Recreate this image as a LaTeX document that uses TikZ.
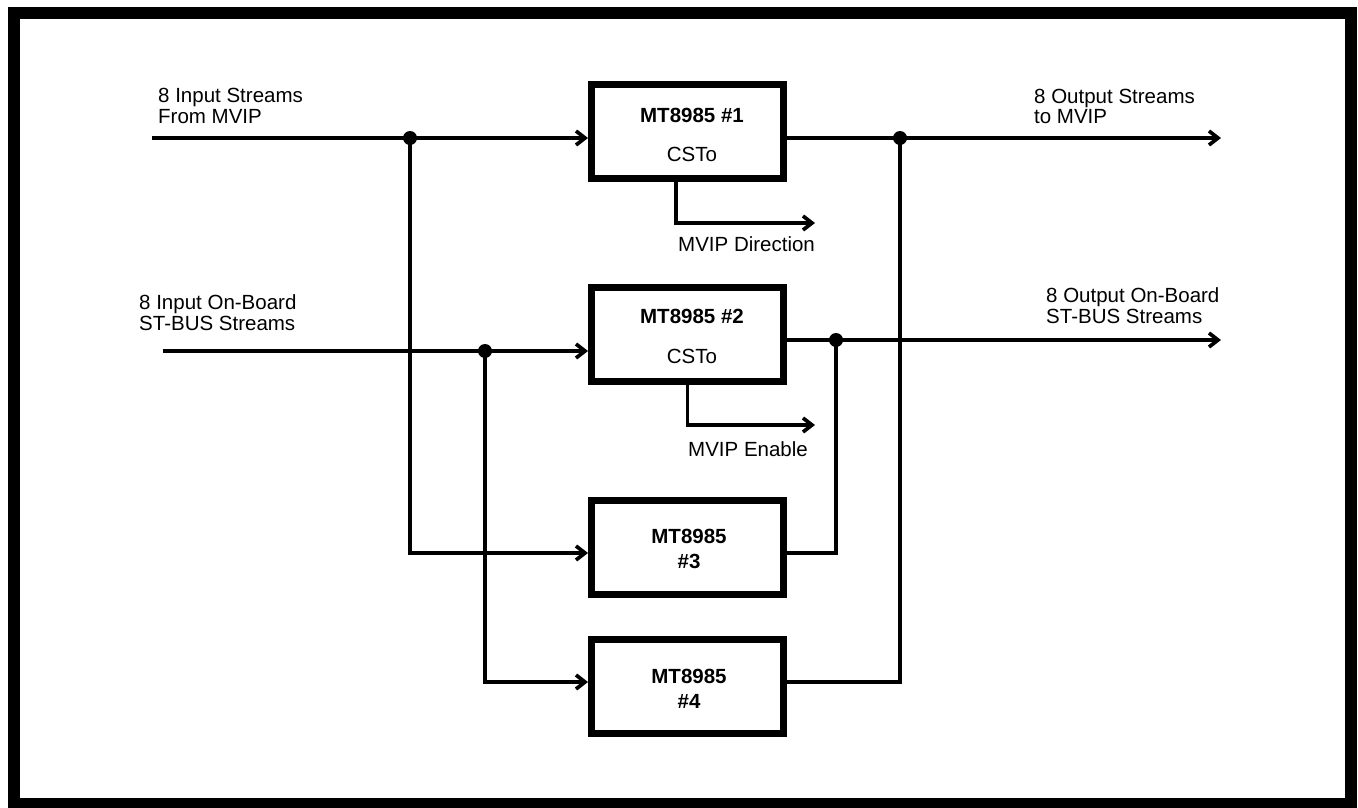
\documentclass[tikz,border=0pt]{standalone}
\usepackage{fontspec}
\setmainfont{Liberation Sans}
\usetikzlibrary{arrows.meta}
\begin{document}
\begin{tikzpicture}[x=1pt,y=-1pt,
  chip/.style={draw, line width=7pt, minimum width=192pt, minimum height=94pt, inner sep=0pt},
  wire/.style={line width=3.7pt},
  arr/.style={wire, -{Straight Barb[length=9pt,width=14pt]}},
  dot/.style={circle, fill, inner sep=0pt, minimum size=14pt},
  lbl/.style={font=\fontsize{20.5}{20.5}\selectfont, inner sep=0pt, align=left, anchor=base west},
  chiptext/.style={font=\fontsize{20.5}{20.5}\selectfont, inner sep=0pt, anchor=base}]
\useasboundingbox (0,0) rectangle (1358,808);
\draw[line width=12pt] (14,13) rectangle (1350.5,803.5);

% chips
\node[chip] (b1) at (687.5,131.5) {};
\node[chip] (b2) at (687.5,334.5) {};
\node[chip] (b3) at (687.5,547.5) {};
\node[chip] (b4) at (687.5,686.5) {};
\node[chiptext] (b1t) at (692,122) {\bfseries MT8985 \#1};
\node[chiptext] (b1c) at (692,161) {CSTo};
\node[chiptext] (b2t) at (692,323) {\bfseries MT8985 \#2};
\node[chiptext] (b2c) at (692,363) {CSTo};
\node[chiptext] (b3t) at (689,543) {\bfseries MT8985};
\node[chiptext] (b3n) at (689,568) {\bfseries \#3};
\node[chiptext] (b4t) at (689,683) {\bfseries MT8985};
\node[chiptext] (b4n) at (689,708) {\bfseries \#4};

% coordinates
\coordinate (in1) at (152,138);
\coordinate (in2) at (163,351);
\coordinate (out1) at (1221,138);
\coordinate (out2) at (1221,340);
\coordinate (j1) at (410,138);
\coordinate (j2) at (485,351);
\coordinate (j3) at (900,138);
\coordinate (j4) at (836,340);
\coordinate (r3) at (0,553);
\coordinate (r4) at (0,682);
\coordinate (d1) at (815,223);
\coordinate (d2) at (815,425);

% wires
\draw[arr] (in1) -- (in1 -| b1.west);
\draw[arr] (in2) -- (in2 -| b2.west);
\draw[arr] (j1) |- (r3 -| b3.west);
\draw[arr] (j2) |- (r4 -| b4.west);
\draw[arr] (out1 -| b1.east) -- (out1);
\draw[arr] (out2 -| b2.east) -- (out2);
\draw[wire] (j4) |- (r3 -| b3.east);
\draw[wire] (j3) |- (r4 -| b4.east);
\draw[arr] ([xshift=-11.5pt]b1.south) |- (d1);
\draw[arr] (b2.south) |- (d2);

% junction dots
\node[dot] (dj1) at (j1) {};
\node[dot] (dj2) at (j2) {};
\node[dot] (dj3) at (j3) {};
\node[dot] (dj4) at (j4) {};

% labels (base anchor = last line baseline)
\node[lbl] (lin1) at (158,123) {8 Input Streams\\From MVIP};
\node[lbl] (lin2) at (139,330) {8 Input On-Board\\ST-BUS Streams};
\node[lbl] (lout1) at (1034,124) {8 Output Streams\\to MVIP};
\node[lbl] (lout2) at (1046,323) {8 Output On-Board\\ST-BUS Streams};
\node[lbl] (ldir) at (678,251) {MVIP Direction};
\node[lbl] (len) at (688,456) {MVIP Enable};
\end{tikzpicture}
\end{document}
